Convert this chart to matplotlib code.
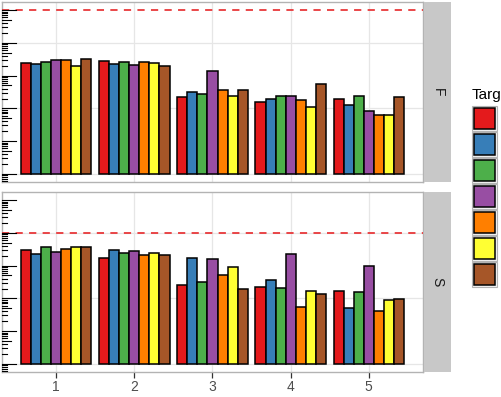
import matplotlib
matplotlib.use("Agg")
import matplotlib.pyplot as plt
from matplotlib.patches import Rectangle
import numpy as np

plt.rcParams["font.family"] = ["Liberation Sans", "DejaVu Sans"]

# --- data (log-scaled values) ---
groups = [1, 2, 3, 4, 5]
targets = ["T1", "T2", "T3", "T4", "T5", "T6", "T7"]
colours = ["#E41A1C", "#377EB8", "#4DAF4A", "#984EA3",
           "#FF7F00", "#FFFF33", "#A65628"]

# panel F: one row per target, one column per group
f_vals = [
    [0.0237, 0.0273, 0.00223, 0.00153, 0.00194],
    [0.0226, 0.0226, 0.00316, 0.00198, 0.00124],
    [0.0260, 0.0260, 0.00281, 0.00244, 0.00244],
    [0.0305, 0.0206, 0.0138, 0.00234, 0.00083],
    [0.0292, 0.0265, 0.00364, 0.00184, 0.00064],
    [0.0196, 0.0237, 0.00234, 0.00108, 0.00064],
    [0.0314, 0.0192, 0.00364, 0.00543, 0.00223],
]
# panel S
s_vals = [
    [0.0299, 0.0171, 0.00251, 0.00218, 0.00172],
    [0.0221, 0.0299, 0.0167, 0.00356, 0.00052],
    [0.0361, 0.0237, 0.00323, 0.00203, 0.00160],
    [0.0254, 0.0284, 0.0156, 0.0226, 0.00973],
    [0.0327, 0.0215, 0.00506, 0.000547, 0.000413],
    [0.0369, 0.0242, 0.00887, 0.00164, 0.000875],
    [0.0361, 0.0210, 0.00198, 0.00139, 0.00096],
]
facets = ["F", "S"]
thresholds = [1.0, 0.1]
base = 1e-5
legend_title = "Targ"  # the reference is cropped right after these letters

W, H = 501, 397
fig = plt.figure(figsize=(W / 100, H / 100), dpi=100)


def box(x0, y0, x1, y1):
    # pixel box (top-left origin) -> figure fraction rect
    return [x0 / W, 1 - y1 / H, (x1 - x0) / W, (y1 - y0) / H]


panel_boxes = [(2, 2, 423, 182), (2, 192, 423, 372)]
strip_boxes = [(424, 2, 451, 182), (424, 192, 451, 372)]

width = 0.9 / len(targets)
for p, (vals, name, thr) in enumerate(zip([f_vals, s_vals], facets, thresholds)):
    ax = fig.add_axes(box(*panel_boxes[p]))
    ax.set_yscale("log")
    ax.set_ylim(10 ** -5.25, 10 ** 0.25)
    ax.set_xlim(0.305, 5.695)

    for gy in [1e-5, 1e-3, 1e-1]:
        ax.axhline(gy, color="#e6e6e6", lw=0.9, zorder=0)
    for gx in groups:
        ax.axvline(gx, color="#e6e6e6", lw=0.9, zorder=0)

    for i, (row, col) in enumerate(zip(vals, colours)):
        xs = np.array(groups) + (i - (len(targets) - 1) / 2) * width
        heights = np.array(row) - base
        ax.bar(xs, heights, width=width, bottom=base, color=col,
               edgecolor="black", linewidth=1.1, zorder=2)

    ax.axhline(thr, color="#E8383A", lw=1.3, ls=(0, (4, 3.5)), zorder=3)

    # log ticks drawn inside the panel on the left
    tr = ax.get_yaxis_transform()
    for k in range(-6, 1):
        for m in range(1, 10):
            v = m * 10.0 ** k
            if not (10 ** -5.25 <= v <= 10 ** 0.25):
                continue
            length = 14 if m == 1 else (9 if m == 5 else 5)
            ax.plot([0, length / 421], [v, v], transform=tr, color="black",
                    lw=0.8, clip_on=False, zorder=4)

    for s in ax.spines.values():
        s.set_color("#b3b3b3")
        s.set_linewidth(1.0)
    ax.tick_params(axis="y", which="both", left=False, labelleft=False)
    ax.set_xticks(groups)
    if p == 0:
        ax.tick_params(axis="x", bottom=False, labelbottom=False)
    else:
        ax.set_xticklabels([str(g) for g in groups])
        ax.tick_params(axis="x", length=4, width=0.9, color="#333333",
                       labelsize=10, labelcolor="#4d4d4d", pad=2)

    sax = fig.add_axes(box(*strip_boxes[p]))
    sax.set_facecolor("#c8c8c8")
    sax.set_xticks([])
    sax.set_yticks([])
    for s in sax.spines.values():
        s.set_visible(False)
    sax.text(0.5, 0.5, name, rotation=-90, ha="center", va="center",
             fontsize=10, color="#1a1a1a", transform=sax.transAxes)

# legend (cut off by the right edge, as in the reference)
fig.text(472 / W, 1 - 99 / H, legend_title, fontsize=11, color="black",
         ha="left", va="baseline")
for i, col in enumerate(colours):
    y0 = 106 + 26 * i
    fig.add_artist(Rectangle((472 / W, 1 - (y0 + 25) / H), 25 / W, 25 / H,
                             transform=fig.transFigure, facecolor="#f2f2f2",
                             edgecolor="#b3b3b3", lw=0.8))
    fig.add_artist(Rectangle((474 / W, 1 - (y0 + 23) / H), 21 / W, 21 / H,
                             transform=fig.transFigure, facecolor=col,
                             edgecolor="black", lw=1.1))

fig.savefig("out.png", dpi=100)
